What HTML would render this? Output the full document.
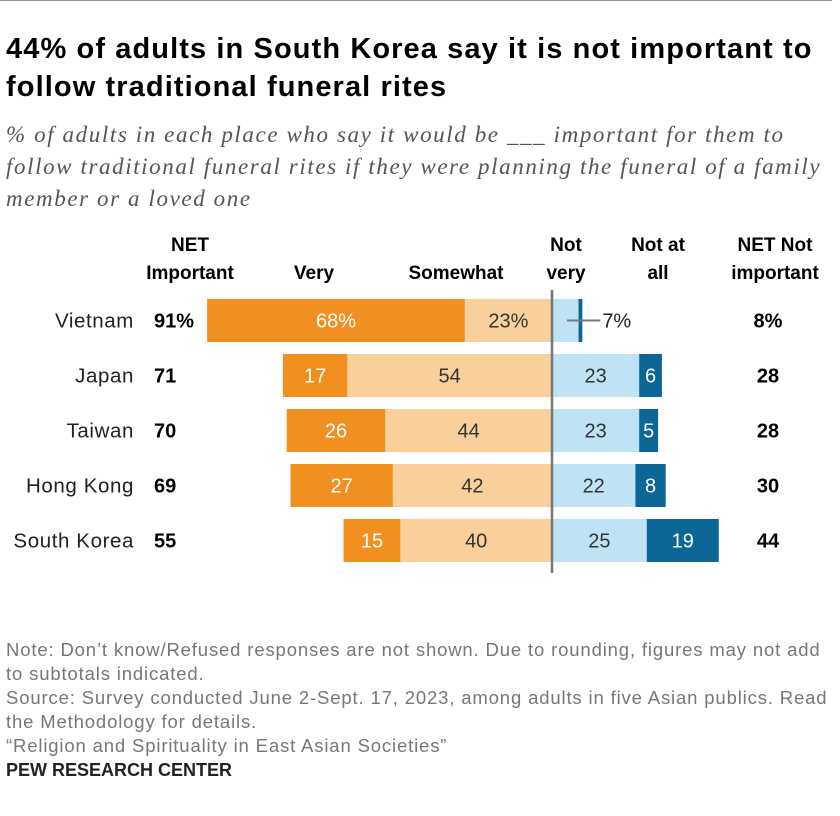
<!DOCTYPE html>
<html><head><meta charset="utf-8"><style>
body{margin:0;background:#fff;font-family:"Liberation Sans",sans-serif;}
.wrap{position:relative;width:840px;height:816px;overflow:hidden;}
</style></head><body>
<div class="wrap">
<div style="position:absolute;left:0;top:0;width:832px;height:1px;background:#999"></div>
<div style="position:absolute;left:6px;top:30px;width:840px;white-space:nowrap;font-size:29px;letter-spacing:1.1px;font-weight:bold;line-height:38px;color:#000">44% of adults in South Korea say it is not important to<br>follow traditional funeral rites</div>
<div style="position:absolute;left:6px;top:119px;width:840px;white-space:nowrap;font-family:'Liberation Serif',serif;font-style:italic;font-size:23px;letter-spacing:1.6px;line-height:32px;color:#555">% of adults in each place who say it would be ___ important for them to<br>follow traditional funeral rites if they were planning the funeral of a family<br>member or a loved one</div>
<svg width="840" height="816" style="position:absolute;left:0;top:0" id="svg"></svg>
<div style="position:absolute;left:6px;top:638px;width:840px;white-space:nowrap;font-size:18.5px;letter-spacing:0.85px;line-height:24px;color:#777">Note: Don’t know/Refused responses are not shown. Due to rounding, figures may not add<br>to subtotals indicated.<br>Source: Survey conducted June 2-Sept. 17, 2023, among adults in five Asian publics. Read<br>the Methodology for details.<br>“Religion and Spirituality in East Asian Societies”</div>
<div style="position:absolute;left:6px;top:760px;font-size:18px;font-weight:bold;color:#222">PEW RESEARCH CENTER</div>
</div>
<script>
const countries=["Vietnam","Japan","Taiwan","Hong Kong","South Korea"];
const netImp=["91%","71","70","69","55"];
const very=[68,17,26,27,15];
const somewhat=[23,54,44,42,40];
const notVery=[7,23,23,22,25];
const notAtAll=[1,6,5,8,19];
const netNot=["8%","28","28","30","44"];
const NS="http://www.w3.org/2000/svg";
const svg=document.getElementById('svg');
const cx=552,k=3.79,y0=299,pitch=55,bh=43;
const xs=v=>v*k;
function el(t,a,txt){const e=document.createElementNS(NS,t);for(const n in a)e.setAttribute(n,a[n]);if(txt!=null)e.textContent=txt;svg.appendChild(e);return e;}
function hdr(x,lines,anchor,name){const t=el('text',{x:x,'font-size':19,'font-weight':'bold','text-anchor':anchor,fill:'#000'});


lines.forEach((l,i)=>{const s=document.createElementNS(NS,'tspan');s.setAttribute('x',x);s.setAttribute('y',lines.length==1?279:251+i*28);s.textContent=l;t.appendChild(s);});}
hdr(190,["NET","Important"],"middle","header-net-important");
hdr(314,["Very"],"middle","header-very");
hdr(456,["Somewhat"],"middle","header-somewhat");
hdr(566,["Not","very"],"middle","header-not-very");
hdr(658,["Not at","all"],"middle","header-not-at-all");
hdr(775,["NET Not","important"],"middle","header-net-not-important");
countries.forEach((c,i)=>{
 const y=y0+i*pitch,my=y+bh/2+7;
 let t=el('text',{x:134,y:my,'font-size':20.5,'letter-spacing':0.6,'text-anchor':'end',fill:'#222'},c);
 
 
 t=el('text',{x:154,y:my,'font-size':20,'font-weight':'bold',fill:'#000'},netImp[i]);
 
 
 const sw=xs(somewhat[i]),vw=xs(very[i]);
 let r=el('rect',{x:cx-sw,y:y,width:sw,height:bh,fill:'#f9d09c'});
 
 
 r=el('rect',{x:cx-sw-vw,y:y,width:vw,height:bh,fill:'#f18f20'});
 
 
 const pct=i==0?'%':'';
 t=el('text',{x:cx-sw-vw/2,y:my,'font-size':20,'text-anchor':'middle',fill:'#fff'},very[i]+pct);
 
 
 t=el('text',{x:cx-sw/2,y:my,'font-size':20,'text-anchor':'middle',fill:'#333'},somewhat[i]+pct);
 
 
 const nw=xs(notVery[i]),aw=xs(notAtAll[i]);
 r=el('rect',{x:cx,y:y,width:nw,height:bh,fill:'#bfe3f5'});
 
 
 r=el('rect',{x:cx+nw,y:y,width:aw,height:bh,fill:'#0c6797'});
 
 
 if(i==0){
  const l=el('line',{x1:cx+15,x2:cx+nw+aw+18,y1:y+bh/2,y2:y+bh/2,stroke:'#777','stroke-width':2});
  
  
  t=el('text',{x:cx+nw+aw+20,y:my,'font-size':20,fill:'#222'},notVery[i]+'%');
 } else {
  t=el('text',{x:cx+nw/2,y:my,'font-size':20,'text-anchor':'middle',fill:'#333'},notVery[i]);
  const t2=el('text',{x:cx+nw+aw/2,y:my,'font-size':20,'text-anchor':'middle',fill:'#fff'},notAtAll[i]);
  
  
 }
 
 
 t=el('text',{x:768,y:my,'font-size':20,'font-weight':'bold','text-anchor':'middle',fill:'#000'},netNot[i]);
 
 
});
const ax=el('line',{x1:cx,x2:cx,y1:290,y2:573,stroke:'#777','stroke-width':2.5});


</script>
</body></html>
